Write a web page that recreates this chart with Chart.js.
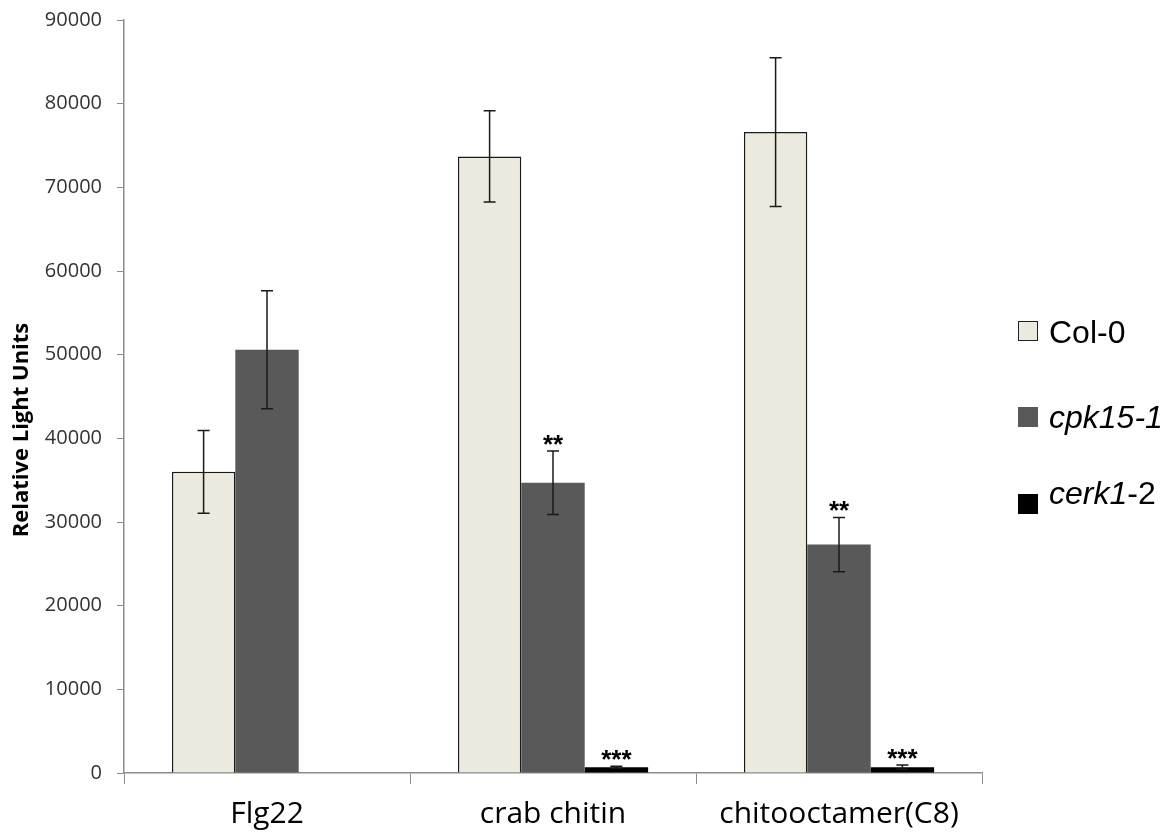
<!DOCTYPE html>
<html>
<head>
<meta charset="utf-8">
<script src="https://cdn.jsdelivr.net/npm/chart.js@4.4.0/dist/chart.umd.min.js"></script>
<style>
html,body{margin:0;padding:0;background:#fff}
#wrap{width:1176px;height:840px;position:relative}
</style>
</head>
<body>
<div id="wrap"><canvas id="c" width="1176" height="840"></canvas></div>
<script>
// data
const categories=['Flg22','crab chitin','chitooctamer(C8)'];
const col0=[36000,73700,76600];
const col0Err=[4950,5450,8900];
const cpk15=[50600,34700,27300];
const cpk15Err=[7050,3800,3250];
const cerk1=[null,700,700];
const cerk1Err=[null,120,250];
const cpk15Sig=['','**','**'];
const cerk1Sig=['','***','***'];
const yTicks=[0,10000,20000,30000,40000,50000,60000,70000,80000,90000];

const errs=[col0Err,cpk15Err,cerk1Err];
const sigs=[null,cpk15Sig,cerk1Sig];

const errorBars={
  id:'errorBars',
  afterDatasetsDraw(chart){
    const ctx=chart.ctx,y=chart.scales.y;
    ctx.save();
    chart.data.datasets.forEach((ds,di)=>{
      const meta=chart.getDatasetMeta(di);
      meta.data.forEach((bar,i)=>{
        const v=ds.data[i],e=errs[di][i];
        if(v==null||e==null)return;
        const x=bar.x,top=y.getPixelForValue(v+e),bot=y.getPixelForValue(v-e);
        ctx.strokeStyle='#1a1a1a';ctx.lineWidth=1.5;
        ctx.beginPath();
        ctx.moveTo(x,top);ctx.lineTo(x,bot);
        ctx.moveTo(x-6,top);ctx.lineTo(x+6,top);
        ctx.moveTo(x-6,bot);ctx.lineTo(x+6,bot);
        ctx.stroke();
        const s=sigs[di]&&sigs[di][i];
        if(s){
          ctx.fillStyle='#000';ctx.font='bold 26px "Liberation Sans"';
          ctx.textAlign='center';ctx.textBaseline='alphabetic';
          ctx.fillText(s,x,top+2);
        }
      });
    });
    ctx.restore();
  }
};

// y title + legend with mixed italic text
const extras={
  id:'extras',
  afterDraw(chart){
    const ctx=chart.ctx;
    ctx.save();
    ctx.translate(22,430);ctx.rotate(-Math.PI/2);
    ctx.font='bold 22px "Open Sans"';ctx.fillStyle='#000';
    ctx.textAlign='center';ctx.textBaseline='middle';
    ctx.fillText('Relative Light Units',0,0);
    ctx.restore();

    ctx.save();
    ctx.textBaseline='alphabetic';ctx.textAlign='left';
    const items=[
      {fill:'#ECEADF',stroke:'#222',box:[1018,321],parts:[['Col-0','']],base:343},
      {fill:'#595959',stroke:null,box:[1018,407],parts:[['cpk15-1','italic ']],base:428},
      {fill:'#000',stroke:null,box:[1018,494],parts:[['cerk1','italic '],['-2','']],base:504}
    ];
    items.forEach(it=>{
      ctx.fillStyle=it.fill;ctx.fillRect(it.box[0],it.box[1],20,20);
      if(it.stroke){ctx.strokeStyle=it.stroke;ctx.lineWidth=1;ctx.strokeRect(it.box[0]+.5,it.box[1]+.5,19,19);}
      let x=1049;
      it.parts.forEach(p=>{
        ctx.font=p[1]+'32px "Liberation Sans"';ctx.fillStyle='#000';
        ctx.fillText(p[0],x,it.base);
        x+=ctx.measureText(p[0]).width;
      });
    });
    ctx.restore();
  }
};

new Chart(document.getElementById('c'),{
  type:'bar',
  data:{
    labels:categories,
    datasets:[
      {label:'Col-0',data:col0,backgroundColor:'#ECEADF',borderColor:'#1a1a1a',borderWidth:1.5},
      {label:'cpk15-1',data:cpk15,backgroundColor:'#595959',borderWidth:0},
      {label:'cerk1-2',data:cerk1,backgroundColor:'#000',borderWidth:0}
    ]
  },
  options:{
    responsive:false,animation:false,
    layout:{padding:{top:20,right:194,left:0,bottom:0}},
    datasets:{bar:{barPercentage:1,categoryPercentage:0.665}},
    plugins:{legend:{display:false},tooltip:{enabled:false}},
    scales:{
      x:{
        grid:{drawOnChartArea:false,color:'#8c8c8c',tickLength:11,offset:true},
        border:{color:'#8c8c8c',width:1.5},
        ticks:{color:'#000',font:{family:'"Open Sans"',size:30},padding:12},
        afterFit(s){s.height=67;s.paddingLeft=0;s.paddingRight=0}
      },
      y:{
        min:0,max:90000,
        afterBuildTicks(s){s.ticks=yTicks.map(v=>({value:v}))},
        grid:{drawOnChartArea:false,color:'#8c8c8c',tickLength:7},
        border:{color:'#8c8c8c',width:1.5},
        ticks:{color:'#333',font:{family:'"Open Sans"',size:20},padding:15,callback:v=>String(v)},
        afterFit(s){s.width=124;s.paddingTop=0;s.paddingBottom=0}
      }
    }
  },
  plugins:[errorBars,extras]
});
</script>
</body>
</html>
